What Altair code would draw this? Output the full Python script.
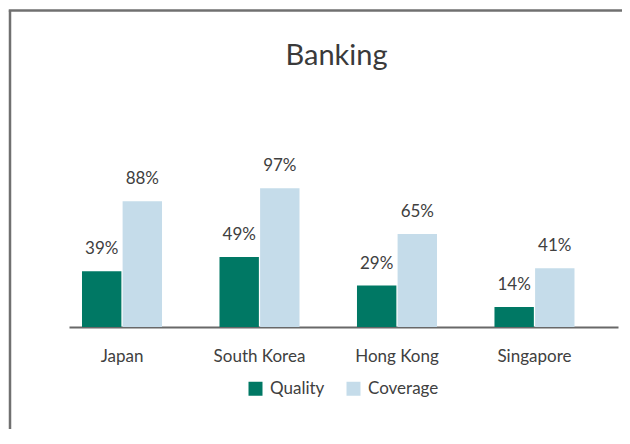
import altair as alt
import pandas as pd

countries = ["Japan", "South Korea", "Hong Kong", "Singapore"]
series = ["Quality", "Coverage"]
quality = [39, 49, 29, 14]
coverage = [88, 97, 65, 41]
colors = ["#007864", "#c5dcea"]

rows = []
for c, q, v in zip(countries, quality, coverage):
    rows.append({"country": c, "series": "Quality", "value": q})
    rows.append({"country": c, "series": "Coverage", "value": v})
df = pd.DataFrame(rows)
df["label"] = df["value"].astype(str) + "%"

FONT = "Lato"
TXT = "#404040"

x_enc = alt.X(
    "country:N",
    sort=countries,
    title=None,
    scale=alt.Scale(paddingInner=0.418, paddingOuter=0.2055, align=0.23),
    axis=alt.Axis(
        labelAngle=0, labelFont=FONT, labelFontSize=17, labelColor=TXT,
        labelBaseline="alphabetic", labelPadding=34, ticks=False, tickSize=0,
        domainColor="#686868", domainWidth=2, grid=False,
    ),
)
xo_enc = alt.XOffset("series:N", sort=series, scale=alt.Scale(paddingInner=0.03, paddingOuter=0))
y_enc = alt.Y("value:Q", scale=alt.Scale(domain=[0, 100], nice=False, zero=True), axis=None)

base = alt.Chart(df)

bars = base.mark_bar().encode(
    x=x_enc,
    xOffset=xo_enc,
    y=y_enc,
    color=alt.Color(
        "series:N",
        sort=series,
        scale=alt.Scale(domain=series, range=colors),
        legend=alt.Legend(
            title=None, orient="none", direction="horizontal",
            legendX=178, legendY=196, padding=0,
            symbolType="square", symbolSize=196, symbolStrokeWidth=0,
            labelFont=FONT, labelFontSize=17, labelColor=TXT,
            labelOffset=6, columnPadding=20,
        ),
    ),
)

labels = base.mark_text(
    font=FONT, fontSize=17, color=TXT, baseline="alphabetic", align="center", dy=-17
).encode(
    x=x_enc,
    xOffset=xo_enc,
    y=y_enc,
    text="label:N",
)

one = pd.DataFrame({"a": [0]})
frame_top = alt.Chart(one).mark_rule(stroke="#707070", strokeWidth=2.5).encode(
    x=alt.value(-60.25), x2=alt.value(700), y=alt.value(-173.5)
)
frame_left = alt.Chart(one).mark_rule(stroke="#707070", strokeWidth=2.5).encode(
    x=alt.value(-59), y=alt.value(-173.5), y2=alt.value(400)
)

chart = alt.layer(frame_top, frame_left, bars, labels).properties(
    width=549,
    height=143,
    autosize=alt.AutoSizeParams(type="none"),
    padding={"left": 61, "top": 176, "right": 4, "bottom": 102},
    title=alt.Title(
        "Banking", font=FONT, fontSize=29, fontWeight="normal", color="#3a3a3a",
        anchor="middle", frame="group", baseline="alphabetic", offset=-84.75, dx=-7,
    ),
).configure_view(stroke=None)

chart.save("out.html", embed_options={"renderer": "svg", "actions": False})
